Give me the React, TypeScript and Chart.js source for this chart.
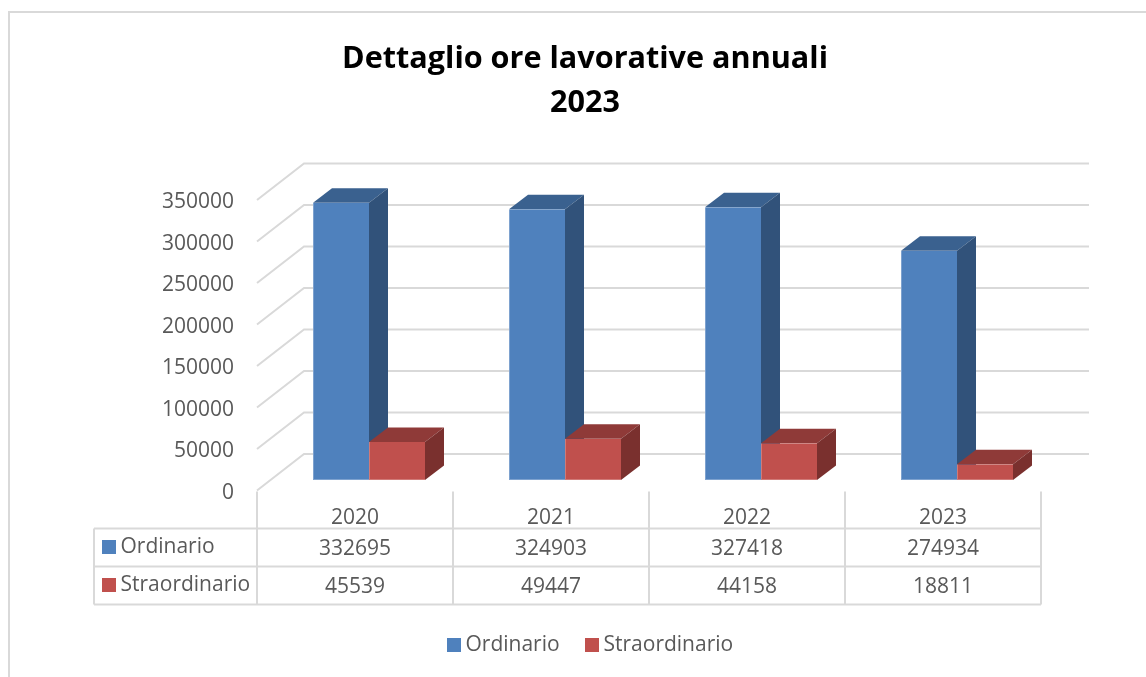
import React, { useEffect, useRef } from "react";
import { Chart, registerables } from "chart.js";

Chart.register(...registerables);

const categories = ["2020", "2021", "2022", "2023"];
const seriesNames = ["Ordinario", "Straordinario"];
const ordinario = [332695, 324903, 327418, 274934];
const straordinario = [45539, 49447, 44158, 18811];
const titleLines = ["Dettaglio ore lavorative annuali", "2023"];

const FONT = "'Open Sans', sans-serif";
const FONT_SIZE = 21;
const TEXT = "#595959";
const GRID = "#D9D9D9";
const FACE = [
  { front: "#4F81BD", edge: "#7EA2CF", top: "#3A618F", side: "#31527A" },
  { front: "#C0504D", edge: "#D07A77", top: "#8F3A38", side: "#7A302E" },
];
const DEPTH_X = 19;
const DEPTH_Y = 14.5;
const WING_X = 47;
const WING_Y = 36.5;
const TABLE_SHIFT = 14;
const ROW_Y = [528.5, 566.5, 604.5];
const TABLE_LEFT = 94;
const BACK_RIGHT = 1089;
const LEGEND_KEY_X = [447, 585];
const LEGEND_TEXT_X = [465.5, 603.5];
const LEGEND_Y = 645;

function poly(ctx: CanvasRenderingContext2D, pts: number[][], fill: string) {
  ctx.fillStyle = fill;
  ctx.beginPath();
  pts.forEach((p, i) => (i ? ctx.lineTo(p[0], p[1]) : ctx.moveTo(p[0], p[1])));
  ctx.closePath();
  ctx.fill();
}

function line(ctx: CanvasRenderingContext2D, x1: number, y1: number, x2: number, y2: number) {
  ctx.beginPath();
  ctx.moveTo(x1, y1);
  ctx.lineTo(x2, y2);
  ctx.stroke();
}

const scene3d = {
  id: "scene3d",
  beforeDraw(chart: any) {
    const ctx = chart.ctx;
    ctx.save();
    ctx.strokeStyle = GRID;
    ctx.lineWidth = 2;
    ctx.beginPath();
    ctx.moveTo(9, 677);
    ctx.lineTo(9, 12);
    ctx.lineTo(1146, 12);
    ctx.stroke();
    ctx.restore();
  },
  beforeDatasetsDraw(chart: any) {
    const ctx = chart.ctx;
    const y = chart.scales.y;
    const x = chart.scales.x;
    const left = chart.chartArea.left - TABLE_SHIFT;
    ctx.save();
    ctx.strokeStyle = GRID;
    ctx.lineWidth = 2;
    y.ticks.forEach((t: any) => {
      const py = y.getPixelForValue(t.value);
      ctx.beginPath();
      ctx.moveTo(left, py);
      ctx.lineTo(left + WING_X, py - WING_Y);
      ctx.lineTo(BACK_RIGHT, py - WING_Y);
      ctx.stroke();
    });

    // data table
    const bottom = chart.chartArea.bottom;
    const colW = x.getPixelForValue(1) - x.getPixelForValue(0);
    for (let i = 0; i <= categories.length; i++) {
      const vx = left + i * colW;
      line(ctx, vx, bottom + 1, vx, ROW_Y[2]);
    }
    line(ctx, TABLE_LEFT, ROW_Y[0], TABLE_LEFT, ROW_Y[2]);
    ROW_Y.forEach((ry) => line(ctx, TABLE_LEFT, ry, left + categories.length * colW, ry));

    ctx.font = `${FONT_SIZE}px ${FONT}`;
    ctx.textBaseline = "middle";
    chart.data.datasets.forEach((ds: any, r: number) => {
      const cy = (ROW_Y[r] + ROW_Y[r + 1]) / 2;
      ctx.fillStyle = FACE[r].front;
      ctx.fillRect(102, cy - 7.5, 14, 14);
      ctx.fillStyle = TEXT;
      ctx.textAlign = "left";
      ctx.fillText(ds.label, 120.5, cy);
      ctx.textAlign = "center";
      ds.data.forEach((v: number, c: number) => {
        ctx.fillText(String(v), x.getPixelForValue(c) - TABLE_SHIFT, cy + 1.5);
      });
      // legend entry below the table
      ctx.fillStyle = FACE[r].front;
      ctx.fillRect(LEGEND_KEY_X[r], LEGEND_Y - 7, 14, 14);
      ctx.fillStyle = TEXT;
      ctx.textAlign = "left";
      ctx.fillText(ds.label, LEGEND_TEXT_X[r], LEGEND_Y);
    });

    // depth faces of the bars; native fronts are painted over them
    [0, 1].forEach((d) => {
      chart.getDatasetMeta(d).data.forEach((b: any) => {
        const l = b.x - b.width / 2;
        const r = b.x + b.width / 2;
        poly(ctx, [[l, b.y], [l + DEPTH_X, b.y - DEPTH_Y], [r + DEPTH_X, b.y - DEPTH_Y], [r, b.y]], FACE[d].top);
        poly(ctx, [[r, b.y], [r + DEPTH_X, b.y - DEPTH_Y], [r + DEPTH_X, b.base - DEPTH_Y], [r, b.base]], FACE[d].side);
      });
    });
    ctx.restore();
  },
};

const barBorder = { left: 1, bottom: 1, right: 0, top: 0 };

export default function App() {
  const ref = useRef<HTMLCanvasElement>(null);
  useEffect(() => {
    document.body.style.margin = "0";
    document.body.style.background = "#fff";
    const chart = new Chart(ref.current as HTMLCanvasElement, {
      type: "bar",
      data: {
        labels: categories,
        datasets: [
          { label: seriesNames[0], data: ordinario, backgroundColor: FACE[0].front, borderColor: FACE[0].edge, borderWidth: barBorder, borderSkipped: false, yAxisID: "yBar" },
          { label: seriesNames[1], data: straordinario, backgroundColor: FACE[1].front, borderColor: FACE[1].edge, borderWidth: barBorder, borderSkipped: false, yAxisID: "yBar" },
        ],
      },
      plugins: [scene3d],
      options: {
        responsive: false,
        animation: false,
        devicePixelRatio: 1,
        categoryPercentage: 112 / 196,
        barPercentage: 1,
        layout: { padding: { left: 115, right: 91, top: 0, bottom: 12 } },
        scales: {
          x: {
            grid: { display: false },
            border: { display: false },
            ticks: { color: TEXT, font: { family: FONT, size: FONT_SIZE }, padding: 7, labelOffset: -TABLE_SHIFT, maxRotation: 0, autoSkip: false },
            afterFit: (s: any) => { s.height = 174.5; },
          },
          y: {
            min: 0,
            max: 350000,
            grid: { display: false },
            border: { display: false },
            ticks: { stepSize: 50000, color: TEXT, font: { family: FONT, size: FONT_SIZE }, padding: 29, labelOffset: 2.5, callback: (v: any) => String(v) },
            afterFit: (s: any) => { s.width = 156; },
          },
          yBar: { display: false, min: -12600, max: 335970 },
        },
        plugins: {
          title: {
            display: true,
            text: titleLines,
            color: "#000",
            font: { family: FONT, size: 30.6, weight: "bold", lineHeight: 44 / 30.6 },
            padding: { top: 37, bottom: 75 },
          },
          legend: { display: false },
          tooltip: { enabled: false },
        },
      } as any,
    });
    return () => chart.destroy();
  }, []);
  return <canvas ref={ref} width={1146} height={677} style={{ position: "absolute", left: 0, top: 0, display: "block" }} />;
}
